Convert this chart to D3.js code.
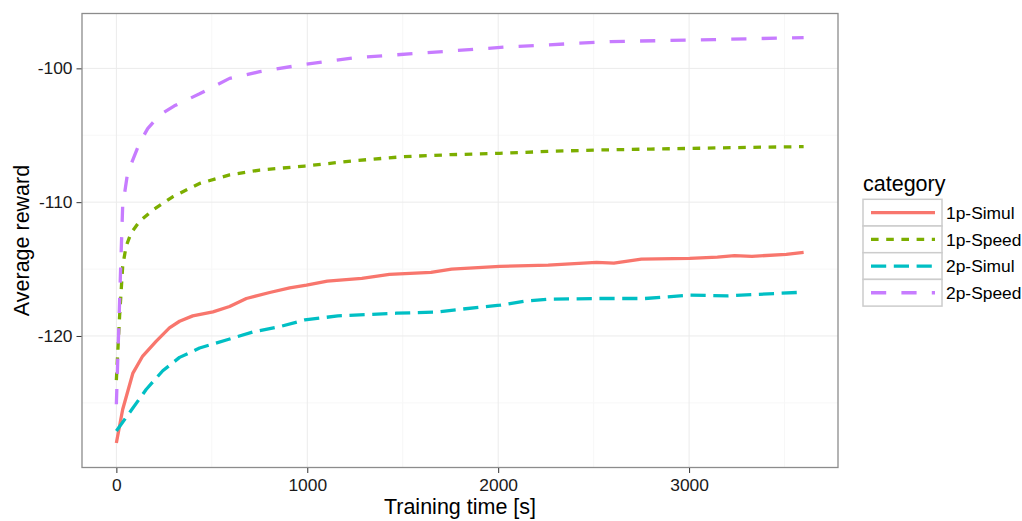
<!DOCTYPE html>
<html>
<head>
<script src="https://d3js.org/d3.v7.min.js"></script>
<style>
    body { margin: 0; background: #fff; }
    svg text { font-family: Arial, "Liberation Sans", Helvetica, sans-serif; }
    .grid-major { stroke: #ebebeb; stroke-width: 1; }
    .grid-minor { stroke: #f7f7f7; stroke-width: 1; }
    .tick line { stroke: #333; }
    .tick text { fill: #1a1a1a; font-size: 17.4px; }
</style>
</head>
<body>
<div id="chart"></div>
<script>
// data
var categories = ["1p-Simul", "1p-Speed", "2p-Simul", "2p-Speed"];

var simul1pTime = [0, 33, 86, 138, 208, 278, 331, 400, 506, 593, 681, 803, 908, 996, 1105, 1286, 1430, 1648, 1756, 2009, 2262, 2515, 2606, 2750, 3003, 3148, 3238, 3329, 3509, 3600];
var simul1pReward = [-128.0, -125.5, -122.8, -121.5, -120.4, -119.4, -118.9, -118.5, -118.2, -117.8, -117.2, -116.75, -116.4, -116.2, -115.9, -115.7, -115.4, -115.25, -115.0, -114.8, -114.7, -114.5, -114.55, -114.25, -114.2, -114.1, -114.0, -114.05, -113.9, -113.75];

var speed1pTime = [0, 17, 33, 51, 77, 121, 190, 295, 436, 593, 751, 987, 1250, 1503, 1750, 2009, 2270, 2533, 2800, 3057, 3330, 3600];
var speed1pReward = [-123.3, -118.5, -114.8, -113.3, -112.3, -111.45, -110.6, -109.6, -108.6, -107.96, -107.6, -107.3, -106.9, -106.6, -106.45, -106.35, -106.2, -106.1, -106.03, -105.97, -105.9, -105.85];

var simul2pTime = [0, 68, 156, 243, 331, 436, 576, 716, 856, 987, 1160, 1467, 1683, 1901, 2009, 2135, 2262, 2515, 2768, 3003, 3202, 3564];
var simul2pReward = [-127.1, -125.75, -124.0, -122.6, -121.6, -120.9, -120.3, -119.7, -119.3, -118.8, -118.5, -118.3, -118.2, -117.85, -117.7, -117.4, -117.25, -117.2, -117.2, -116.95, -117.0, -116.75];

var speed2pTime = [0, 21, 33, 59, 121, 164, 226, 304, 436, 593, 751, 987, 1250, 1557, 2045, 2588, 3129, 3600];
var speed2pReward = [-125.1, -115.55, -110.3, -107.8, -105.6, -104.5, -103.5, -102.8, -101.9, -100.75, -100.25, -99.7, -99.2, -98.9, -98.4, -98.0, -97.85, -97.7];

var xTicks = [0, 1000, 2000, 3000];
var yTicks = [-120, -110, -100];

var width = 1022, height = 521;
var panel = { left: 82, right: 838, top: 13.5, bottom: 467.5 };

var colors = { "1p-Simul": "#F8766D", "1p-Speed": "#7CAE00", "2p-Simul": "#00BFC4", "2p-Speed": "#C77CFF" };
var dashes = { "1p-Simul": null, "1p-Speed": "7.6,7.6", "2p-Simul": "15.2,7.6", "2p-Speed": "15.2,15.2" };

function zipSeries(ts, vs) {
    return ts.map(function(t, i) { return { t: t, v: vs[i] }; });
}

var series = [
    { key: "1p-Simul", values: zipSeries(simul1pTime, simul1pReward) },
    { key: "1p-Speed", values: zipSeries(speed1pTime, speed1pReward) },
    { key: "2p-Simul", values: zipSeries(simul2pTime, simul2pReward) },
    { key: "2p-Speed", values: zipSeries(speed2pTime, speed2pReward) }
];

var x = d3.scaleLinear().domain([-180, 3780]).range([panel.left, panel.right]);
var y = d3.scaleLinear().domain([-129.83, -95.9]).range([panel.bottom, panel.top]);

var svg = d3.select("#chart").append("svg")
    .attr("width", width)
    .attr("height", height);

// minor grid
var xMinor = [500, 1500, 2500, 3500];
var yMinor = [-125, -115, -105];
svg.append("g").selectAll("line").data(xMinor).enter().append("line")
    .attr("class", "grid-minor")
    .attr("x1", function(d) { return x(d); }).attr("x2", function(d) { return x(d); })
    .attr("y1", panel.top).attr("y2", panel.bottom);
svg.append("g").selectAll("line").data(yMinor).enter().append("line")
    .attr("class", "grid-minor")
    .attr("y1", function(d) { return y(d); }).attr("y2", function(d) { return y(d); })
    .attr("x1", panel.left).attr("x2", panel.right);

// major grid
svg.append("g").selectAll("line").data(xTicks).enter().append("line")
    .attr("class", "grid-major")
    .attr("x1", function(d) { return x(d); }).attr("x2", function(d) { return x(d); })
    .attr("y1", panel.top).attr("y2", panel.bottom);
svg.append("g").selectAll("line").data(yTicks).enter().append("line")
    .attr("class", "grid-major")
    .attr("y1", function(d) { return y(d); }).attr("y2", function(d) { return y(d); })
    .attr("x1", panel.left).attr("x2", panel.right);

// lines
var line = d3.line()
    .x(function(d) { return x(d.t); })
    .y(function(d) { return y(d.v); });

svg.append("g").selectAll("path").data(series).enter().append("path")
    .attr("d", function(d) { return line(d.values); })
    .attr("fill", "none")
    .attr("stroke", function(d) { return colors[d.key]; })
    .attr("stroke-width", 3.3)
    .attr("stroke-dasharray", function(d) { return dashes[d.key]; })
    .attr("stroke-linejoin", "round");

// panel border
svg.append("rect")
    .attr("x", panel.left).attr("y", panel.top)
    .attr("width", panel.right - panel.left)
    .attr("height", panel.bottom - panel.top)
    .attr("fill", "none")
    .attr("stroke", "#8c8c8c")
    .attr("stroke-width", 1.3);

// axes
var xAxis = svg.append("g")
    .attr("transform", "translate(0," + (panel.bottom + 0.5) + ")")
    .call(d3.axisBottom(x).tickValues(xTicks).tickSize(5).tickPadding(6).tickFormat(d3.format("d")));
xAxis.select(".domain").remove();

var yAxis = svg.append("g")
    .attr("transform", "translate(" + (panel.left - 0.5) + ",0)")
    .call(d3.axisLeft(y).tickValues(yTicks).tickSize(5).tickPadding(4).tickFormat(function(d) { return "-" + Math.abs(d); }));
yAxis.select(".domain").remove();

// axis titles
svg.append("text")
    .attr("x", (panel.left + panel.right) / 2)
    .attr("y", 514)
    .attr("text-anchor", "middle")
    .attr("font-size", "21.5px")
    .attr("fill", "#000")
    .text("Training time [s]");

svg.append("text")
    .attr("transform", "translate(29," + (panel.top + panel.bottom) / 2 + ") rotate(-90)")
    .attr("text-anchor", "middle")
    .attr("font-size", "21.5px")
    .attr("fill", "#000")
    .text("Average reward");

// legend
var legend = svg.append("g").attr("transform", "translate(863,0)");
legend.append("text")
    .attr("x", 0).attr("y", 191)
    .attr("font-size", "21.5px")
    .attr("fill", "#000")
    .text("category");

var keyH = 26.7, keyW = 79, keyTop = 199.3;
var items = legend.selectAll(".item").data(categories).enter().append("g")
    .attr("class", "item")
    .attr("transform", function(d, i) { return "translate(0," + (keyTop + i * keyH) + ")"; });

items.append("rect")
    .attr("width", keyW).attr("height", keyH)
    .attr("fill", "#fff")
    .attr("stroke", "#cccccc")
    .attr("stroke-width", 1.5);

items.append("line")
    .attr("x1", 8).attr("x2", keyW - 7)
    .attr("y1", keyH / 2).attr("y2", keyH / 2)
    .attr("stroke", function(d) { return colors[d]; })
    .attr("stroke-width", 3.3)
    .attr("stroke-dasharray", function(d) { return dashes[d]; });

items.append("text")
    .attr("x", keyW + 4)
    .attr("y", keyH / 2)
    .attr("dy", "0.36em")
    .attr("font-size", "17.4px")
    .attr("fill", "#000")
    .text(function(d) { return d; });
</script>
</body>
</html>
